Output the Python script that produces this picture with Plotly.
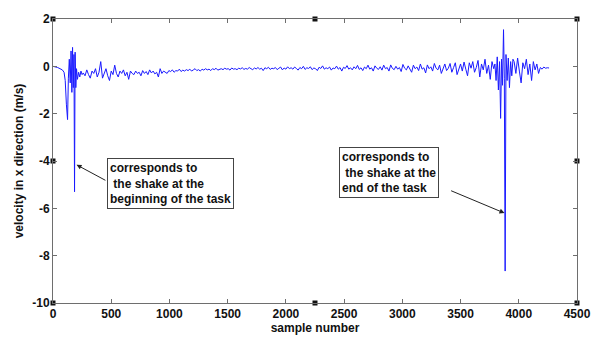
import plotly.graph_objects as go

# ---- data ----
begin_x = [0, 20, 40, 60, 80, 95, 105, 115, 125, 132, 140, 148, 155, 162, 168, 174, 180, 185,
           190, 196, 202, 210, 220, 230, 240, 250]
begin_y = [0.0, -0.02, -0.05, -0.1, -0.15, -0.25, -0.6, -1.6, -2.25, -0.5, 0.3, -0.7, 0.65, -1.1,
           0.8, -0.9, 0.5, -5.3, 0.6, -0.9, -0.1, -0.55, -0.25, -0.45, -0.2, -0.35]

mid_start, mid_step = 260, 15
mid_y = [
    -0.28, -0.4, -0.15, -0.35, -0.5, -0.2, -0.3, -0.1, -0.45, -0.25,
    0.2, -0.5, -0.3, -0.1, -0.4, -0.6, -0.2, -0.35, 0.05, -0.3,
    -0.45, -0.2, -0.3, -0.15, -0.4, -0.25, -0.55, -0.2, -0.3, -0.35,
    -0.2, -0.3, -0.25, -0.4, -0.18, -0.3, -0.22, -0.35, -0.15, -0.28,
    -0.2, -0.32, -0.25, -0.45, -0.1, -0.3, -0.2, -0.25, -0.3, -0.18,
    -0.22, -0.15, -0.25, -0.18, -0.2, -0.12, -0.22, -0.16, -0.2, -0.14,
    -0.18, -0.12, -0.2, -0.15, -0.1, -0.18, -0.14, -0.2, -0.12, -0.16,
    -0.1, -0.15, -0.12, -0.18, -0.1, -0.14, -0.08, -0.16, -0.12, -0.1,
    -0.14, -0.08, -0.12, -0.1, -0.16, -0.07, -0.12, -0.1, -0.14, -0.08,
    -0.11, -0.06, -0.13, -0.09, -0.12, -0.05, -0.1, -0.14, -0.07, -0.11,
    -0.05, -0.12, -0.08, -0.18, -0.06, -0.1, -0.04, -0.13, -0.08, -0.1,
    -0.05, -0.14, -0.08, -0.03, -0.15, -0.07, -0.12, -0.02, -0.1, -0.06,
    -0.12, -0.03, -0.09, -0.16, -0.05, -0.1, 0.0, -0.13, -0.06, -0.09,
    -0.02, -0.14, -0.07, -0.1, -0.18, -0.04, -0.09, 0.02, -0.12, -0.06,
    -0.1, -0.03, -0.16, -0.07, -0.1, 0.01, -0.12, -0.05, -0.2, -0.04,
    -0.09, 0.03, -0.12, -0.06, -0.15, -0.02, -0.1, 0.04, -0.13, -0.06,
    -0.18, -0.03, -0.1, 0.05, -0.12, -0.06, -0.2, 0.02, -0.08, -0.13,
    -0.02, -0.16, 0.05, -0.1, -0.05, -0.2, 0.06, -0.09, -0.14, 0.0,
    -0.12, -0.05, -0.22, 0.08, -0.08, -0.15, 0.02, -0.1, -0.25, 0.05,
    -0.1, -0.03, -0.18, 0.1, -0.12, -0.06, -0.28, 0.06, -0.1, -0.02,
    -0.2, 0.12, -0.08, -0.15, 0.05, -0.3, -0.05, 0.1, -0.18, -0.08,
    0.12, -0.25, -0.05, 0.15, -0.35, -0.1, 0.1, -0.2, 0.18, -0.12,
    -0.4, 0.15, -0.08, 0.2, -0.25, -0.05, 0.25, -0.45, 0.1, -0.15,
    0.3, -0.3, 0.05, -0.55, 0.2, -0.1,
]

end_x = [3795, 3805, 3815, 3825, 3835, 3844, 3852, 3860, 3869, 3876, 3883, 3890, 3900, 3910,
         3920, 3930, 3940, 3950]
end_y = [0.1, -0.6, 0.4, -1.0, 0.2, -2.2, 0.3, -0.8, 1.55, -0.5, -8.65, 0.5, -0.6, 0.35,
         -0.9, 0.2, -0.4, 0.3]

tail_start, tail_step = 3960, 15
tail_y = [0.2, -0.3, 0.35, -0.2, -0.7, 0.15, -0.1, 0.3, -0.35, 0.1, -0.6, 0.2, -0.15, 0.1,
          -0.3, -0.05, -0.12, -0.03, -0.08, -0.06, -0.07]

x_ticks = [0, 500, 1000, 1500, 2000, 2500, 3000, 3500, 4000, 4500]
y_ticks = [2, 0, -2, -4, -6, -8, -10]

handle_x = [0, 2250, 4500, 0, 4500, 0, 2250, 4500]
handle_y = [2, 2, 2, -4, -4, -10, -10, -10]

note1 = "corresponds to<br> the shake at the<br>beginning of the task"
note2 = "corresponds to<br> the shake at the<br>end of the task"

# ---- assemble series ----
mid_x = [mid_start + i * mid_step for i in range(len(mid_y))]
tail_x = [tail_start + i * tail_step for i in range(len(tail_y))]
xs = begin_x + mid_x + end_x + tail_x
ys = begin_y + mid_y + end_y + tail_y

FONT = "Arial, Liberation Sans, sans-serif"

fig = go.Figure()
fig.add_trace(go.Scatter(x=xs, y=ys, mode="lines",
                         line=dict(color="#1a1aff", width=1), hoverinfo="skip"))
fig.add_trace(go.Scatter(x=handle_x, y=handle_y, mode="markers",
                         marker=dict(symbol="square", size=5, color="#111"),
                         cliponaxis=False, hoverinfo="skip"))

axis_common = dict(showline=True, linecolor="#6e6e6e", linewidth=1, mirror="ticks",
                   ticks="inside", ticklen=4, tickcolor="#6e6e6e", showgrid=False,
                   zeroline=False,
                   tickfont=dict(family=FONT, size=12, color="#111"))

fig.update_xaxes(range=[0, 4500], tickvals=x_ticks,
                 ticktext=["<b>%d</b>" % v for v in x_ticks],
                 title=dict(text="<b>sample number</b>", standoff=2,
                            font=dict(family=FONT, size=12, color="#111")),
                 **axis_common)
fig.update_yaxes(range=[-10, 2], tickvals=y_ticks,
                 ticktext=["<b>%d</b>" % v for v in y_ticks],
                 title=dict(text="<b>velocity in x direction (m/s)</b>", standoff=6,
                            font=dict(family=FONT, size=12, color="#111")),
                 **axis_common)

# annotation boxes
for txt, bx, by in [(note1, 463, -3.87), (note2, 2456, -3.42)]:
    fig.add_annotation(x=bx, y=by, xref="x", yref="y", text="<b>" + txt + "</b>",
                       showarrow=False, xanchor="left", yanchor="top", align="left",
                       font=dict(family=FONT, size=12, color="#111"),
                       bordercolor="#444", borderwidth=1, borderpad=2, bgcolor="white")

# arrows
for tx, ty, hx, hy in [(463, -4.85, 202, -4.16), (3406, -5.23, 3877, -6.2)]:
    fig.add_annotation(x=hx, y=hy, ax=tx, ay=ty, xref="x", yref="y", axref="x", ayref="y",
                       text="", showarrow=True, arrowhead=2, arrowsize=1, arrowwidth=1,
                       arrowcolor="#222")

fig.update_layout(width=603, height=344, showlegend=False,
                  margin=dict(l=53, r=15, t=14, b=36),
                  plot_bgcolor="white", paper_bgcolor="white")

fig.write_html("out.html")
